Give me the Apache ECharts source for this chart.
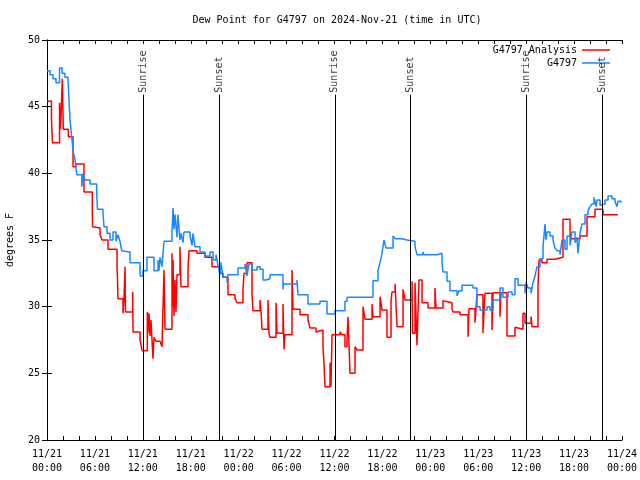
<!DOCTYPE html>
<html>
<head>
<meta charset="utf-8">
<script src="https://cdn.jsdelivr.net/npm/echarts@6/dist/echarts.min.js"></script>
<style>html,body{margin:0;padding:0;background:#fff}#c{width:640px;height:480px}</style>
</head>
<body>
<div id="c"></div>
<script>
// Hours since 2024-11-21 00:00 UTC
const xTickLabels = ['11/21\n00:00','11/21\n06:00','11/21\n12:00','11/21\n18:00','11/22\n00:00','11/22\n06:00','11/22\n12:00','11/22\n18:00','11/23\n00:00','11/23\n06:00','11/23\n12:00','11/23\n18:00','11/24\n00:00'];
const yTicks = [20,25,30,35,40,45,50];

const obsHours = [0.00,0.38,0.75,1.13,1.57,1.88,2.25,2.63,2.88,3.13,3.32,3.51,3.72,4.35,4.51,4.76,5.38,6.22,6.32,7.01,7.14,7.51,7.89,8.26,8.64,8.89,9.14,9.35,9.52,10.39,11.65,12.02,12.52,13.40,13.90,14.02,14.15,14.40,14.65,15.65,15.78,15.90,16.03,16.28,16.40,16.65,16.78,17.03,17.15,17.91,18.16,18.28,18.53,19.16,19.78,20.41,20.79,21.16,21.41,21.66,21.79,22.04,22.54,22.66,23.92,24.79,25.04,25.29,25.67,26.30,26.67,27.05,27.42,27.92,29.55,29.61,31.30,31.43,32.68,34.18,35.06,36.06,37.31,37.57,40.82,41.45,41.70,41.95,42.20,42.45,43.33,43.58,44.45,45.08,46.08,46.33,47.08,47.21,48.84,49.46,49.59,50.09,50.46,51.34,51.59,51.97,53.34,53.84,54.22,55.10,55.47,55.85,56.72,57.10,57.73,58.23,58.60,58.98,59.86,59.98,60.23,60.61,60.86,61.11,61.36,61.73,62.11,62.36,62.48,62.61,62.99,63.36,63.61,63.86,64.24,64.49,64.86,65.12,65.49,65.74,66.12,66.37,66.49,66.74,66.99,67.37,67.74,67.99,68.24,68.50,68.75,68.87,69.25,69.50,69.87,70.25,70.75,71.12,71.37,71.50,71.87];
const obsValues = [47.7,47.4,47.1,46.8,47.9,47.5,47.2,47.0,44.0,42.5,41.5,41.0,39.9,39.0,40.0,39.5,39.2,38.5,37.3,37.0,36.0,35.5,35.0,35.6,34.9,35.4,34.9,34.2,34.1,33.3,32.3,32.7,33.7,32.7,33.5,32.7,33.7,33.0,34.9,35.6,37.4,35.8,36.9,35.2,36.9,35.0,35.5,34.8,35.6,35.3,34.6,35.5,34.5,34.1,33.8,34.1,33.5,33.9,33.1,32.4,33.3,32.2,31.8,32.4,32.9,33.2,32.3,33.2,32.75,33.0,32.8,32.0,32.1,32.4,31.3,31.7,32.0,30.9,30.2,30.4,29.45,29.7,30.4,30.7,31.95,32.7,33.3,34.0,35.0,34.4,35.3,35.1,35.0,34.9,34.5,33.9,34.1,33.9,34.0,33.3,32.6,31.9,31.2,30.8,31.2,31.6,31.4,30.0,29.75,30.0,29.75,30.5,31.4,30.7,31.1,30.9,32.1,31.6,31.0,31.8,31.4,31.0,31.8,32.3,33.0,33.6,34.5,36.2,35.0,35.6,35.3,35.0,34.4,34.2,33.9,35.0,34.3,35.3,34.6,35.6,34.8,35.2,34.0,35.5,36.2,36.9,37.2,37.5,37.7,38.2,37.5,38.0,37.6,37.7,38.0,38.3,38.1,37.9,37.5,37.9,37.8];

const anaHours = [0.00,0.56,0.69,1.57,1.69,1.92,2.04,2.67,3.26,3.63,4.63,5.67,5.71,5.76,6.64,6.89,7.64,8.77,8.83,8.89,9.52,9.64,9.77,9.83,10.73,10.77,11.65,11.90,12.56,12.65,12.77,12.90,13.02,13.15,13.27,13.40,13.65,14.15,14.40,14.65,14.78,15.65,15.72,15.78,15.90,16.03,16.15,16.28,16.65,16.78,17.66,17.78,18.78,19.78,20.66,21.66,22.04,22.66,23.54,23.79,24.54,24.67,25.04,25.67,25.79,26.67,26.80,26.92,27.67,27.80,27.92,28.68,28.80,29.55,29.68,29.80,30.68,30.80,31.68,32.68,32.93,33.68,33.81,34.56,34.68,34.81,35.44,35.56,35.69,36.69,36.94,37.31,37.57,37.69,37.94,38.57,38.82,39.57,39.82,40.70,40.82,41.70,41.95,42.57,43.08,43.20,43.58,43.83,44.58,44.83,45.71,45.77,46.08,46.33,46.58,46.96,47.71,48.58,48.71,49.59,49.84,50.71,50.84,51.72,52.72,52.84,53.59,53.84,54.59,54.84,55.72,55.85,56.72,56.85,57.60,58.60,58.85,59.60,59.86,60.61,60.73,61.48,61.61,61.98,62.61,63.61,64.61,65.49,65.61,66.74,67.62,68.62,69.62,71.50];
const anaValues = [45.4,44.0,42.3,45.3,43.3,47.1,43.3,42.75,40.5,40.7,38.6,37.2,36.0,35.9,35.4,35.0,34.3,33.0,32.0,30.6,29.5,30.6,33.0,29.6,31.1,28.1,27.5,26.7,29.6,28.0,29.5,27.8,29.0,27.5,26.1,27.7,27.4,27.3,27.0,32.75,28.3,34.0,30.0,33.5,29.3,32.0,29.6,32.4,34.5,31.5,32.9,34.2,34.0,33.7,33.0,32.5,32.2,30.9,30.6,30.3,31.25,32.5,33.3,31.0,29.7,30.5,29.7,28.3,30.5,28.0,27.7,30.3,28.0,30.2,26.8,27.9,32.75,29.8,29.4,29.0,28.4,28.1,28.25,27.0,25.75,24.0,25.8,24.0,27.9,28.1,27.9,27.0,27.6,29.25,25.0,27.0,26.75,30.0,29.05,30.2,29.25,30.75,29.75,27.7,30.45,31.1,31.7,28.5,31.3,30.5,31.9,28.0,31.8,27.1,32.0,30.3,29.9,31.4,29.9,30.45,30.3,29.85,29.6,29.4,27.75,29.85,28.8,30.9,28.0,31.0,28.25,31.05,29.25,31.05,27.8,28.45,28.3,29.5,28.75,29.25,28.5,31.4,33.5,33.3,33.55,33.7,36.55,35.5,35.1,35.3,36.75,37.3,36.9,36.9];

const sunNames = ['Sunrise','Sunset','Sunrise','Sunset','Sunrise','Sunset'];
const sunHours = [12.03,21.53,36.05,45.52,60.07,69.52];

const FONT = 'DejaVu Sans Mono';
const chart = echarts.init(document.getElementById('c'), null, {renderer: 'canvas'});
const lineBottom = 20, lineTop = 45.9, labelAnchor = 46.05;

chart.setOption({
  animation: false,
  backgroundColor: '#fff',
  title: {
    text: 'Dew Point for G4797 on 2024-Nov-21 (time in UTC)',
    left: 332, top: 10, textAlign: 'center',
    textStyle: {fontFamily: FONT, fontSize: 10, fontWeight: 'normal', color: '#000'}
  },
  legend: {
    orient: 'vertical', right: 30, top: 44, align: 'right', padding: 0,
    itemWidth: 28, itemHeight: 1.5, itemGap: 1, icon: 'rect',
    textStyle: {fontFamily: FONT, fontSize: 10, color: '#000', lineHeight: 12},
    data: ['G4797 Analysis', 'G4797']
  },
  grid: {left: 47, right: 18, top: 40, bottom: 40, containLabel: false, outerBoundsMode: 'none'},
  xAxis: [{
    type: 'value', min: 0, max: 72, interval: 2, position: 'bottom',
    axisLine: {show: true, lineStyle: {color: '#000', width: 1}},
    axisTick: {show: true, inside: true, length: 4, lineStyle: {color: '#000'}},
    splitLine: {show: false},
    axisLabel: {
      fontFamily: FONT, fontSize: 10, color: '#000', margin: 7, lineHeight: 14,
      formatter: v => (v % 6 === 0 ? xTickLabels[v / 6] : '')
    }
  }, {
    type: 'value', min: 0, max: 72, interval: 2, position: 'top',
    axisLine: {show: true, lineStyle: {color: '#000', width: 1}},
    axisTick: {show: true, inside: true, length: 4, lineStyle: {color: '#000'}},
    splitLine: {show: false}, axisLabel: {show: false}
  }],
  yAxis: [{
    type: 'value', min: yTicks[0], max: yTicks[yTicks.length - 1], interval: 5, position: 'left',
    name: 'degrees F', nameLocation: 'middle', nameGap: 32, nameRotate: 90,
    nameTextStyle: {fontFamily: FONT, fontSize: 10, color: '#000'},
    axisLine: {show: true, lineStyle: {color: '#000', width: 1}},
    axisTick: {show: true, inside: true, length: 5, lineStyle: {color: '#000'}},
    splitLine: {show: false},
    axisLabel: {fontFamily: FONT, fontSize: 10, color: '#000', margin: 7}
  }, {
    type: 'value', min: yTicks[0], max: yTicks[yTicks.length - 1], interval: 5, position: 'right',
    axisLine: {show: true, lineStyle: {color: '#000', width: 1}},
    axisTick: {show: true, inside: true, length: 5, lineStyle: {color: '#000'}},
    splitLine: {show: false}, axisLabel: {show: false}
  }],
  series: [{
    name: 'G4797 Analysis', type: 'line', step: 'end', showSymbol: false,
    color: '#ff0000', lineStyle: {color: '#ff0000', width: 1.5},
    data: anaHours.map((h, i) => [h, anaValues[i]]), z: 3
  }, {
    name: 'G4797', type: 'line', step: 'end', showSymbol: false,
    color: '#1a88ff', lineStyle: {color: '#1a88ff', width: 1.5},
    data: obsHours.map((h, i) => [h, obsValues[i]]), z: 4
  }, {
    name: 'sun', type: 'scatter', symbolSize: 0, silent: true, z: 5,
    data: sunHours.map((h, i) => ({value: [h, labelAnchor], name: sunNames[i]})),
    label: {
      show: true, position: 'inside', rotate: 90, align: 'left', verticalAlign: 'middle',
      formatter: p => p.name, fontFamily: FONT, fontSize: 10, color: '#000'
    },
    markLine: {
      silent: true, symbol: 'none', animation: false,
      lineStyle: {color: '#000', width: 1, type: 'solid'},
      label: {show: false},
      data: sunHours.map(h => [{coord: [h, lineBottom]}, {coord: [h, lineTop]}])
    }
  }]
});
</script>
</body>
</html>
